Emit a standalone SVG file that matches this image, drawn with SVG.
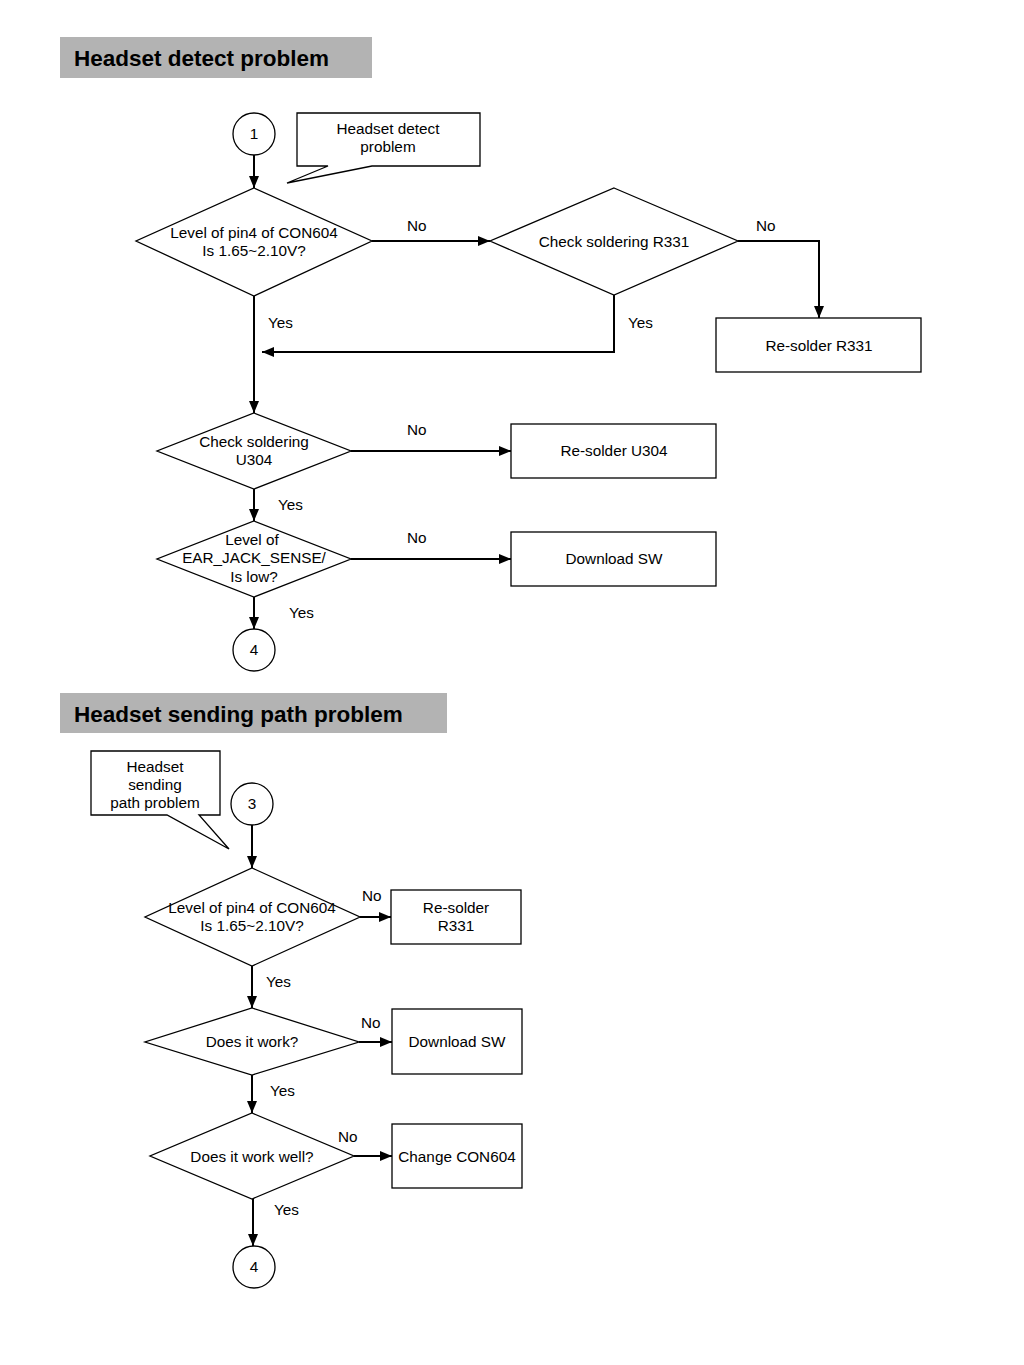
<svg xmlns="http://www.w3.org/2000/svg" width="1024" height="1365" viewBox="0 0 1024 1365">
<style>
.bg{fill:#ffffff}
.title{fill:#b3b3b3}
.tt{font-family:"Liberation Sans",Arial,sans-serif;font-size:22.5px;font-weight:bold;fill:#000}
.sh{fill:#fff;stroke:#000;stroke-width:1.3}
.t{font-family:"Liberation Sans",Arial,sans-serif;font-size:15.3px;fill:#000;text-anchor:middle}
.lb{font-family:"Liberation Sans",Arial,sans-serif;font-size:15.3px;fill:#000}
.c{fill:none;stroke:#000;stroke-width:2}
</style>
<defs>
<marker id="ah" viewBox="0 0 12 10" refX="12" refY="5" markerWidth="6" markerHeight="5" orient="auto" markerUnits="strokeWidth">
<path d="M0,0 L12,5 L0,10 z" fill="#000"/>
</marker>
</defs>
<rect class="bg" x="0" y="0" width="1024" height="1365"/>

<g id="title1"><rect class="title" x="60" y="37" width="312" height="41"/><text class="tt" x="74" y="66">Headset detect problem</text></g>
<g id="title2"><rect class="title" x="60" y="693" width="387" height="40"/><text class="tt" x="74" y="722">Headset sending path problem</text></g>

<g id="connectors">
<line class="c" x1="254" y1="155" x2="254" y2="188" marker-end="url(#ah)"/>
<line class="c" x1="372" y1="241" x2="490" y2="241" marker-end="url(#ah)"/>
<polyline class="c" points="738,241 819,241 819,318" marker-end="url(#ah)"/>
<polyline class="c" points="614,295 614,352 262,352" marker-end="url(#ah)"/>
<line class="c" x1="254" y1="296" x2="254" y2="413" marker-end="url(#ah)"/>
<line class="c" x1="351" y1="451" x2="511" y2="451" marker-end="url(#ah)"/>
<line class="c" x1="254" y1="489" x2="254" y2="521" marker-end="url(#ah)"/>
<line class="c" x1="351" y1="559" x2="511" y2="559" marker-end="url(#ah)"/>
<line class="c" x1="254" y1="597" x2="254" y2="629" marker-end="url(#ah)"/>
<line class="c" x1="252" y1="825" x2="252" y2="868" marker-end="url(#ah)"/>
<line class="c" x1="360" y1="917" x2="391" y2="917" marker-end="url(#ah)"/>
<line class="c" x1="252" y1="966" x2="252" y2="1008" marker-end="url(#ah)"/>
<line class="c" x1="359" y1="1042" x2="392" y2="1042" marker-end="url(#ah)"/>
<line class="c" x1="252" y1="1075" x2="252" y2="1113" marker-end="url(#ah)"/>
<line class="c" x1="354" y1="1156" x2="392" y2="1156" marker-end="url(#ah)"/>
<line class="c" x1="253" y1="1199" x2="253" y2="1246" marker-end="url(#ah)"/>
<text class="lb" x="407" y="231">No</text>
<text class="lb" x="756" y="231">No</text>
<text class="lb" x="628" y="328">Yes</text>
<text class="lb" x="268" y="328">Yes</text>
<text class="lb" x="407" y="435">No</text>
<text class="lb" x="278" y="510">Yes</text>
<text class="lb" x="407" y="543">No</text>
<text class="lb" x="289" y="618">Yes</text>
<text class="lb" x="362" y="901">No</text>
<text class="lb" x="266" y="987">Yes</text>
<text class="lb" x="361" y="1028">No</text>
<text class="lb" x="270" y="1096">Yes</text>
<text class="lb" x="338" y="1142">No</text>
<text class="lb" x="274" y="1215">Yes</text>
</g>

<g id="start1"><circle class="sh" cx="254" cy="134" r="21"/><text class="t" x="254" y="139">1</text></g>
<g id="note1"><path class="sh" d="M297,113 H480 V166 H372 L287,183 L328,166 H297 Z"/><text class="t" x="388" y="134">Headset detect</text><text class="t" x="388" y="152">problem</text></g>
<g id="d1"><polygon class="sh" points="254,188 372,241 254,296 136,241"/><text class="t" x="254" y="238">Level of pin4 of CON604</text><text class="t" x="254" y="256">Is 1.65~2.10V?</text></g>
<g id="d2"><polygon class="sh" points="614,188 738,241 614,295 490,241"/><text class="t" x="614" y="247">Check soldering R331</text></g>
<g id="b1"><rect class="sh" x="716" y="318" width="205" height="54"/><text class="t" x="819" y="351">Re-solder R331</text></g>
<g id="d3"><polygon class="sh" points="254,413 351,451 254,489 157,451"/><text class="t" x="254" y="447">Check soldering</text><text class="t" x="254" y="465">U304</text></g>
<g id="b2"><rect class="sh" x="511" y="424" width="205" height="54"/><text class="t" x="614" y="456">Re-solder U304</text></g>
<g id="d4"><polygon class="sh" points="254,521 351,559 254,597 157,559"/><text class="t" x="252" y="545">Level of</text><text class="t" x="254" y="563">EAR_JACK_SENSE/</text><text class="t" x="254" y="582">Is low?</text></g>
<g id="b3"><rect class="sh" x="511" y="532" width="205" height="54"/><text class="t" x="614" y="564">Download SW</text></g>
<g id="end1"><circle class="sh" cx="254" cy="650" r="21"/><text class="t" x="254" y="655">4</text></g>

<g id="note2"><path class="sh" d="M91,751 H220 V815 H199 L229,849 L167,815 H91 Z"/><text class="t" x="155" y="772">Headset</text><text class="t" x="155" y="790">sending</text><text class="t" x="155" y="808">path problem</text></g>
<g id="start2"><circle class="sh" cx="252" cy="804" r="21"/><text class="t" x="252" y="809">3</text></g>
<g id="d5"><polygon class="sh" points="252,868 360,917 252,966 145,917"/><text class="t" x="252" y="913">Level of pin4 of CON604</text><text class="t" x="252" y="931">Is 1.65~2.10V?</text></g>
<g id="b4"><rect class="sh" x="391" y="890" width="130" height="54"/><text class="t" x="456" y="913">Re-solder</text><text class="t" x="456" y="931">R331</text></g>
<g id="d6"><polygon class="sh" points="252,1008 359,1042 252,1075 145,1042"/><text class="t" x="252" y="1047">Does it work?</text></g>
<g id="b5"><rect class="sh" x="392" y="1009" width="130" height="65"/><text class="t" x="457" y="1047">Download SW</text></g>
<g id="d7"><polygon class="sh" points="252,1113 354,1156 252,1199 150,1156"/><text class="t" x="252" y="1162">Does it work well?</text></g>
<g id="b6"><rect class="sh" x="392" y="1124" width="130" height="64"/><text class="t" x="457" y="1162">Change CON604</text></g>
<g id="end2"><circle class="sh" cx="254" cy="1267" r="21"/><text class="t" x="254" y="1272">4</text></g>
</svg>
